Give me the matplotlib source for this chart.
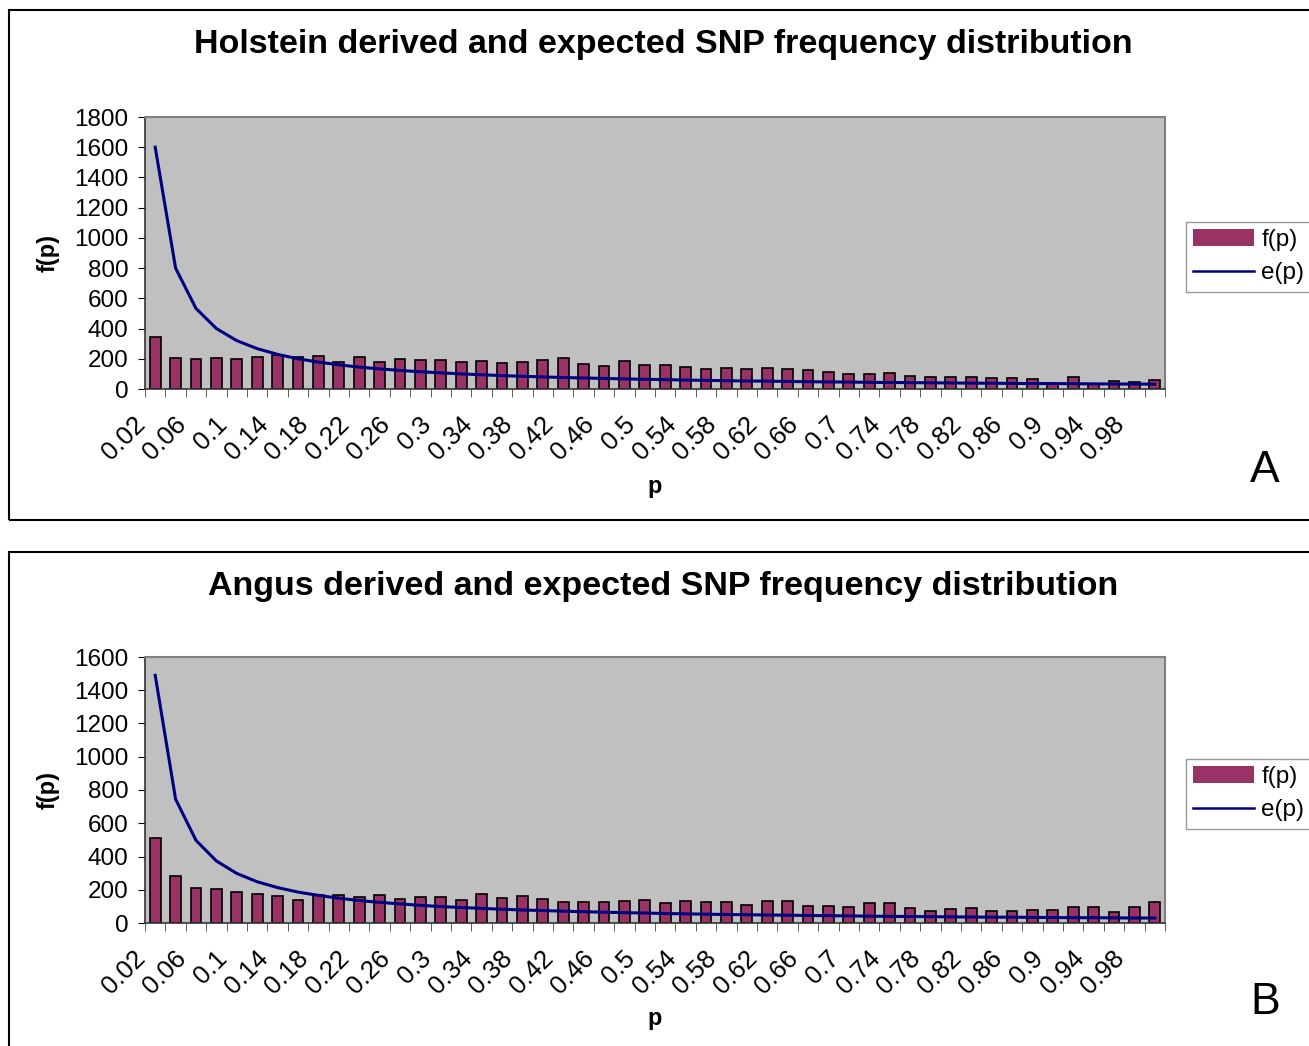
import numpy as np
import matplotlib
matplotlib.use("Agg")
import matplotlib.pyplot as plt
import matplotlib.transforms as mtransforms
from matplotlib.patches import Rectangle, Patch
from matplotlib.lines import Line2D

plt.rcParams['font.family'] = ['Liberation Sans', 'DejaVu Sans']

# categories p = 0.02 ... 1.00
p_values = [round(0.02 * i, 2) for i in range(1, 51)]
p_labels = ["0.02", "0.06", "0.1", "0.14", "0.18", "0.22", "0.26", "0.3", "0.34",
            "0.38", "0.42", "0.46", "0.5", "0.54", "0.58", "0.62", "0.66", "0.7",
            "0.74", "0.78", "0.82", "0.86", "0.9", "0.94", "0.98"]

# Holstein observed f(p) and expected e(p)
holstein_f = [346, 207, 200, 203, 200, 214, 225, 214, 220, 176,
              211, 176, 196, 192, 190, 181, 187, 170, 181, 194,
              205, 167, 150, 183, 158, 158, 143, 132, 141, 132,
              141, 130, 128, 112, 97, 97, 103, 88, 81, 79,
              81, 75, 70, 64, 31, 77, 35, 51, 46, 62]
holstein_e = [1600, 800, 533, 400, 320, 267, 229, 200, 178, 160,
              145, 133, 123, 114, 107, 100, 94, 89, 84, 80,
              76, 73, 70, 67, 64, 62, 59, 57, 55, 53,
              52, 50, 48, 47, 46, 44, 43, 42, 41, 40,
              39, 38, 37, 36, 36, 35, 34, 33, 33, 32]

# Angus observed f(p) and expected e(p)
angus_f = [513, 282, 210, 202, 188, 176, 162, 136, 166, 168,
           158, 166, 144, 158, 154, 140, 172, 148, 162, 146,
           128, 126, 126, 135, 138, 120, 135, 129, 127, 110,
           135, 135, 103, 103, 95, 123, 123, 88, 75, 86,
           92, 75, 71, 80, 77, 99, 99, 67, 97, 127]
angus_e = [1490, 745, 497, 373, 298, 248, 213, 186, 166, 149,
           135, 124, 115, 106, 99, 93, 88, 83, 78, 75,
           71, 68, 65, 62, 60, 57, 55, 53, 51, 50,
           48, 47, 45, 44, 43, 41, 40, 39, 38, 37,
           36, 35, 35, 34, 33, 32, 32, 31, 30, 30]

W, H = 1309, 1046
fig = plt.figure(figsize=(W / 100, H / 100), dpi=100)

def fx(px):
    return px / W

def fy(py):
    return 1 - py / H

panels = [
    dict(title="Holstein derived and expected SNP frequency distribution",
         f=holstein_f, e=holstein_e, ymax=1800, letter="A",
         box=(9, 10, 520), plot=(117, 389), title_y=45, ylab_y=253,
         xlab_y=487, letter_y=470, leg_y=222),
    dict(title="Angus derived and expected SNP frequency distribution",
         f=angus_f, e=angus_e, ymax=1600, letter="B",
         box=(9, 552, 1060), plot=(657, 923), title_y=587, ylab_y=790,
         xlab_y=1018, letter_y=1002, leg_y=759),
]

x = np.arange(len(p_values))
# Excel ends the slanted label a little left of the category centre
lab_shift = mtransforms.ScaledTranslation(-22 / 100, -4 / 100, fig.dpi_scale_trans)

for pn in panels:
    bx, by0, by1 = pn['box']
    fig.patches.append(Rectangle((fx(bx), fy(by1)), fx(W + 20 - bx), fy(by0) - fy(by1),
                                 transform=fig.transFigure, fill=False,
                                 edgecolor='black', linewidth=1.5))

    top, bottom = pn['plot']
    ax = fig.add_axes([fx(145), fy(bottom), fx(1020), fy(top) - fy(bottom)])
    ax.set_facecolor('#C0C0C0')
    ax.bar(x, pn['f'], width=0.52, color='#993366', edgecolor='black', linewidth=1.2, zorder=2)
    ax.plot(x, pn['e'], color='#000080', linewidth=2.2, zorder=3)

    ax.set_yticks(np.arange(0, pn['ymax'] + 1, 200))
    ax.tick_params(axis='y', labelsize=17.5, length=5, pad=7, direction='out')

    ax.set_xticks(x[::2])
    ax.set_xticklabels(p_labels, rotation=45, ha='right', rotation_mode='anchor', fontsize=18.5)
    ax.set_xticks(np.arange(-0.5, len(x), 1), minor=True)
    ax.tick_params(axis='x', which='major', length=0, pad=14)
    ax.tick_params(axis='x', which='minor', length=6, direction='out', color='#444444')
    ax.set_xlim(-0.5, len(x) - 0.5)
    ax.set_ylim(0, pn['ymax'])
    for lab in ax.get_xticklabels():
        lab.set_transform(lab.get_transform() + lab_shift)

    for s in ['top', 'right']:
        ax.spines[s].set_color('#808080')
        ax.spines[s].set_linewidth(1.5)
    for s in ['left', 'bottom']:
        ax.spines[s].set_color('#333333')
        ax.spines[s].set_linewidth(1.2)

    fig.text(fx(663), fy(pn['title_y']), pn['title'], fontsize=24.5, fontweight='bold',
             ha='center', va='center')
    fig.text(fx(48), fy(pn['ylab_y']), "f(p)", fontsize=17, fontweight='bold',
             rotation=90, ha='center', va='center')
    fig.text(fx(655), fy(pn['xlab_y']), "p", fontsize=17, fontweight='bold',
             ha='center', va='center')
    fig.text(fx(1265), fy(pn['letter_y']), pn['letter'], fontsize=32,
             ha='center', va='center')

    handles = [Patch(facecolor='#993366', edgecolor='none'),
               Line2D([0], [0], color='#000080', linewidth=1.8)]
    leg = ax.legend(handles, ["f(p)", "e(p)"], loc='upper left',
                    bbox_to_anchor=(fx(1186), fy(pn['leg_y'])),
                    bbox_transform=fig.transFigure, fontsize=17.5, frameon=True,
                    fancybox=False, edgecolor='#808080', borderaxespad=0,
                    handlelength=2.5, handletextpad=0.3, borderpad=0.3,
                    labelspacing=0.45)
    leg.get_frame().set_linewidth(1.0)

fig.savefig("out.png", dpi=100)
